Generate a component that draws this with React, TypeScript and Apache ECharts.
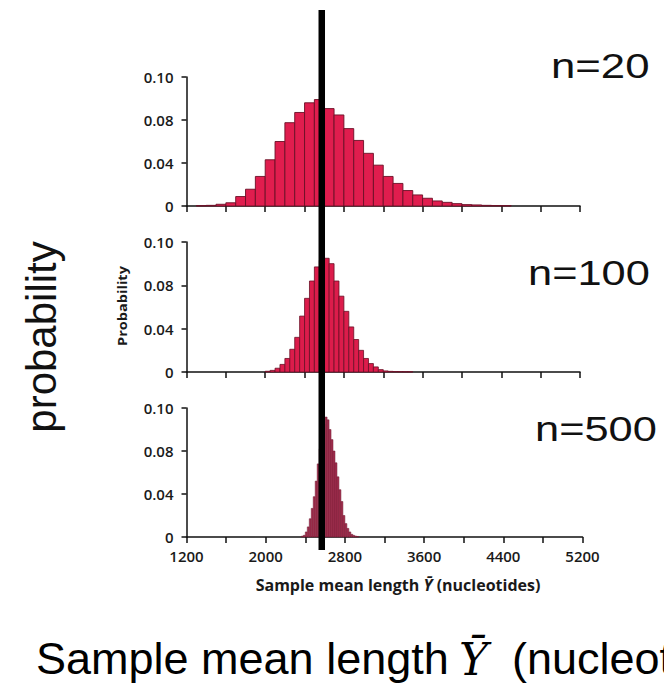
import React, { useEffect, useRef } from "react";
import * as echarts from "echarts";

// ---- data ----
const xMin = 1200;
const xMax = 5200;
const xStep = 400;
const xTickLabels = [1200, 2000, 2800, 3600, 4400, 5200];
const yTickValues = [0, 0.04, 0.08, 0.12];
const yTickLabels = ["0", "0.04", "0.08", "0.10"];

const n20Start = 1300;
const n20BinWidth = 100;
const n20Prob = [
  0.0003, 0.0006, 0.0016, 0.003, 0.0088, 0.0156, 0.0275, 0.043, 0.06, 0.0775,
  0.087, 0.096, 0.099, 0.0906, 0.0847, 0.072, 0.061, 0.049, 0.038, 0.0275,
  0.021, 0.0144, 0.0103, 0.0072, 0.0047, 0.0034, 0.0022, 0.0013, 0.001, 0.0006,
  0.0004, 0.0003,
];

const n100Start = 2000;
const n100BinWidth = 50;
const n100Prob = [
  0.0007, 0.0015, 0.0035, 0.007, 0.0125, 0.021, 0.032, 0.0516, 0.068, 0.084,
  0.097, 0.103, 0.105, 0.1, 0.084, 0.07, 0.056, 0.0416, 0.03, 0.02, 0.0125,
  0.0078, 0.0047, 0.0022, 0.001, 0.0006, 0.0004, 0.0003, 0.0002, 0.0002,
];

const n500Start = 2360;
const n500BinWidth = 20;
const n500Prob = [
  0.0008, 0.0016, 0.0047, 0.0094, 0.017, 0.0266, 0.0375, 0.052, 0.068, 0.082,
  0.095, 0.105, 0.1116, 0.109, 0.1, 0.0906, 0.08, 0.069, 0.056, 0.044, 0.033,
  0.02, 0.0125, 0.008, 0.0047, 0.0025, 0.0015, 0.0008, 0.0005,
];

const meanLength = 2575;
const panelLabels = ["n=20", "n=100", "n=500"];

// ---- helpers ----
const toBins = (start: number, width: number, probs: number[]) =>
  probs.map((p, i) => [start + i * width, start + (i + 1) * width, p]);

const LABEL_FONT = "'Open Sans', 'DejaVu Sans', sans-serif";
const BIG_FONT = "'Liberation Sans', Arial, sans-serif";
const INK = "#1a1a1a";

const txt = (extra: any, style: any) => ({
  type: "text",
  ...extra,
  style: {
    align: "left",
    verticalAlign: "bottom",
    textAlign: "left",
    textVerticalAlign: "bottom",
    fill: "#111",
    ...style,
  },
});

export default function App() {
  const ref = useRef<HTMLDivElement>(null);

  useEffect(() => {
    if (!ref.current) return;
    const chart = echarts.init(ref.current, null, { renderer: "svg" });

    const grids = [
      { left: 186.5, top: 77, width: 393.5, height: 129 },
      { left: 186.5, top: 242, width: 393.5, height: 130 },
      { left: 186.5, top: 408, width: 396, height: 129 },
      { left: 186.5, top: 10, width: 393.5, height: 540 },
    ];

    const yLabel = (v: number) => {
      const idx = yTickValues.findIndex((t) => Math.abs(t - v) < 1e-6);
      return idx >= 0 ? yTickLabels[idx] : "";
    };

    const xAxisFor = (i: number) => ({
      type: "value",
      gridIndex: i,
      min: xMin,
      max: xMax,
      interval: xStep,
      splitLine: { show: false },
      axisLine: { show: true, onZero: false, lineStyle: { color: "#111", width: 1.5 } },
      axisTick: { show: true, length: 6, lineStyle: { color: "#111", width: 1.5 } },
      axisLabel: {
        show: i === 2,
        showMinLabel: true,
        showMaxLabel: true,
        margin: 11,
        fontFamily: LABEL_FONT,
        fontWeight: 600,
        fontSize: 15,
        color: INK,
        formatter: (v: number) => (xTickLabels.includes(Math.round(v)) ? String(Math.round(v)) : ""),
      },
    });

    const yAxisFor = (i: number) => ({
      type: "value",
      gridIndex: i,
      min: 0,
      max: 0.12,
      interval: 0.04,
      splitLine: { show: false },
      axisLine: { show: true, lineStyle: { color: "#111", width: 1.5 } },
      axisTick: { show: true, length: 5, lineStyle: { color: "#111", width: 1.5 } },
      axisLabel: {
        margin: 13,
        fontFamily: LABEL_FONT,
        fontWeight: 600,
        fontSize: 15,
        color: INK,
        formatter: yLabel,
      },
    });

    const histSeries = (i: number, data: number[][], fill: string, stroke: string, lw: number) => ({
      type: "custom",
      xAxisIndex: i,
      yAxisIndex: i,
      data,
      encode: { x: [0, 1], y: 2 },
      renderItem: (_params: any, api: any) => {
        const p0 = api.coord([api.value(0), 0]);
        const p1 = api.coord([api.value(1), api.value(2)]);
        return {
          type: "rect",
          shape: { x: p0[0], y: p1[1], width: p1[0] - p0[0], height: p0[1] - p1[1] },
          style: { fill, stroke, lineWidth: lw },
        };
      },
    });

    const option: any = {
      animation: false,
      backgroundColor: "#ffffff",
      grid: grids,
      xAxis: [xAxisFor(0), xAxisFor(1), xAxisFor(2), {
        type: "value", gridIndex: 3, min: xMin, max: xMax, show: false,
      }],
      yAxis: [yAxisFor(0), yAxisFor(1), yAxisFor(2), {
        type: "value", gridIndex: 3, min: 0, max: 1, show: false,
      }],
      series: [
        histSeries(0, toBins(n20Start, n20BinWidth, n20Prob), "#e01d4e", "#6a1026", 0.9),
        histSeries(1, toBins(n100Start, n100BinWidth, n100Prob), "#dc1c4b", "#6a1026", 0.8),
        histSeries(2, toBins(n500Start, n500BinWidth, n500Prob), "#a52f50", "#6e1a30", 0.5),
        {
          type: "line",
          xAxisIndex: 3,
          yAxisIndex: 3,
          data: [[meanLength, 0], [meanLength, 1]],
          symbol: "none",
          z: 10,
          lineStyle: { color: "#000", width: 6.5, cap: "butt" },
        },
      ],
      graphic: [
        txt({ x: 551, y: 83, scaleX: 1.25 }, { text: panelLabels[0], fontFamily: BIG_FONT, fontSize: 35 }),
        txt({ x: 528, y: 290, scaleX: 1.24 }, { text: panelLabels[1], fontFamily: BIG_FONT, fontSize: 35 }),
        txt({ x: 535, y: 446, scaleX: 1.24 }, { text: panelLabels[2], fontFamily: BIG_FONT, fontSize: 35 }),
        txt(
          { x: 41, y: 337, rotation: Math.PI / 2 },
          { text: "probability", fontFamily: BIG_FONT, fontSize: 42, align: "center", verticalAlign: "middle",
            textAlign: "center", textVerticalAlign: "middle" }
        ),
        txt(
          { x: 122, y: 306, rotation: Math.PI / 2, scaleX: 1.12 },
          { text: "Probability", fontFamily: LABEL_FONT, fontWeight: 700, fontSize: 13, fill: INK,
            align: "center", verticalAlign: "middle", textAlign: "center", textVerticalAlign: "middle" }
        ),
        {
          type: "text", x: 398, y: 585,
          style: {
            text: "{a|Sample mean length }{y|Ȳ}{a| (nucleotides)}",
            align: "center", verticalAlign: "middle", textAlign: "center", textVerticalAlign: "middle",
            rich: {
              a: { fontFamily: LABEL_FONT, fontWeight: 700, fontSize: 16, fill: INK, color: INK },
              y: { fontFamily: LABEL_FONT, fontWeight: 700, fontStyle: "italic", fontSize: 16, fill: INK, color: INK },
            },
          },
        },
        txt({ x: 36, y: 681 }, { text: "Sample mean length", fontFamily: BIG_FONT, fontSize: 45, fill: "#000" }),
        txt({ x: 459, y: 681 }, { text: "Ȳ", fontFamily: "'DejaVu Serif', serif", fontStyle: "italic", fontSize: 44, fill: "#000" }),
        txt({ x: 512, y: 681 }, { text: "(nucleotides)", fontFamily: BIG_FONT, fontSize: 45, fill: "#000" }),
      ],
    };

    chart.setOption(option);
    return () => chart.dispose();
  }, []);

  return (
    <div
      ref={ref}
      style={{ position: "absolute", left: 0, top: 0, width: 664, height: 686, background: "#fff" }}
    />
  );
}
